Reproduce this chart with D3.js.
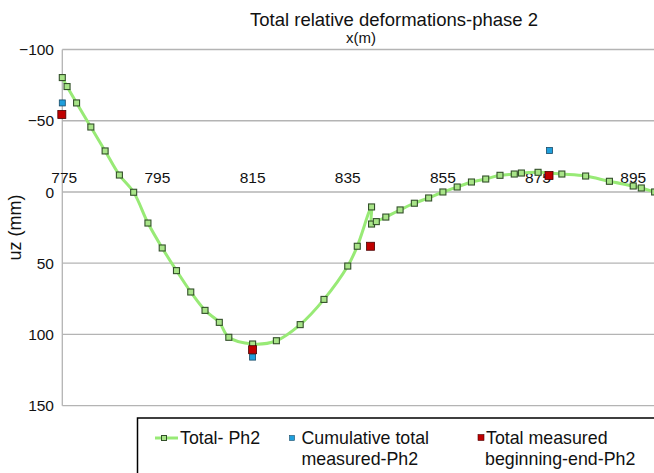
<!DOCTYPE html>
<html>
<head>
<meta charset="utf-8">
<script src="https://cdn.jsdelivr.net/npm/d3@7"></script>
<style>
  html, body { margin: 0; padding: 0; background: #fff; overflow: hidden; }
  svg { display: block; font-family: "Liberation Sans", Arial, sans-serif; }
</style>
</head>
<body>
<svg id="chart" width="654" height="473"></svg>
<script>
// ---- Data ----
const titleText = "Total relative deformations-phase 2";
const xAxisTitle = "x(m)";
const yAxisTitle = "uz (mm)";
const xTicks = [775, 795, 815, 835, 855, 875, 895];
const yTicks = [-100, -50, 0, 50, 100, 150];

const totalX = [775, 776, 778, 781, 784, 787, 790, 793, 796, 799, 802, 805, 808, 810, 815, 820, 825, 830, 835, 837, 840, 840, 841, 843, 846, 849, 852, 855, 858, 861, 864, 867, 870, 871.5, 875, 880, 885, 890, 895, 896.7, 899.5];
const totalY = [-80.3, -74, -62.5, -45.6, -28.8, -11.9, 0.2, 21.8, 39.3, 55.2, 70.2, 83.1, 91.5, 102, 106.7, 104.4, 93.1, 75.4, 52, 38.1, 10.5, 22.5, 20.8, 17.6, 12.6, 7.9, 4.2, 0, -3.5, -7, -9.1, -11.7, -12.6, -13.3, -13.8, -12.6, -11.2, -7.5, -4.2, -2.8, 0];

const cumX = [775, 815, 877.4];
const cumY = [-62.5, 115.9, -29.1];

const measX = [774.9, 815, 839.8, 877.3];
const measY = [-54.4, 110.7, 38.1, -11.5];

const legendLabels = [["Total- Ph2"], ["Cumulative total", "measured-Ph2"], ["Total measured", "beginning-end-Ph2"]];

// ---- Layout ----
const svg = d3.select("#chart");
const pLeft = 62.3, pRight = 657, pTop = 49.5, pBottom = 405.7;

const x = d3.scaleLinear().domain([775, 900]).range([pLeft, pRight]);
const y = d3.scaleLinear().domain([-100, 150]).range([pTop, pBottom]);

const green = "#98ea76", greenFill = "#a8e488", greenStroke = "#33502a";
const blue = "#1f9fdc", red = "#c00000";

// gridlines
svg.append("g").selectAll("line").data(yTicks).join("line")
  .attr("x1", pLeft).attr("x2", 654)
  .attr("y1", d => y(d)).attr("y2", d => y(d))
  .attr("stroke", "#b4b4b4").attr("stroke-width", 1.3);

// vertical axis line
svg.append("line").attr("x1", pLeft).attr("x2", pLeft).attr("y1", pTop).attr("y2", pBottom)
  .attr("stroke", "#b4b4b4").attr("stroke-width", 1.3);

// y tick labels
svg.append("g").selectAll("text").data(yTicks).join("text")
  .attr("x", 54).attr("y", d => y(d)).attr("dy", "0.36em")
  .attr("text-anchor", "end").attr("font-size", 15.5).attr("fill", "#111")
  .text(d => d < 0 ? "\u2212" + Math.abs(d) : d);

// x tick labels (above zero line)
svg.append("g").selectAll("text").data(xTicks).join("text")
  .attr("x", d => x(d) + (d === 775 ? 2 : 0)).attr("y", y(0) - 9)
  .attr("text-anchor", "middle").attr("font-size", 15.5).attr("fill", "#111")
  .text(d => d);

// title
svg.append("text").attr("x", 394).attr("y", 26).attr("text-anchor", "middle")
  .attr("font-size", 18.5).attr("fill", "#111").text(titleText);
svg.append("text").attr("x", 361).attr("y", 43).attr("text-anchor", "middle")
  .attr("font-size", 15).attr("fill", "#111").text(xAxisTitle);

// y axis title
svg.append("text").attr("transform", `translate(21,${(pTop + pBottom) / 2}) rotate(-90)`)
  .attr("text-anchor", "middle").attr("font-size", 18).attr("fill", "#111").text(yAxisTitle);

// total line
const totalData = totalX.map((v, i) => [v, totalY[i]]);
const line = d3.line().x(d => x(d[0])).y(d => y(d[1])).curve(d3.curveCatmullRom.alpha(0.5));
svg.append("path").datum(totalData).attr("d", line)
  .attr("fill", "none").attr("stroke", green).attr("stroke-width", 3);

svg.append("g").selectAll("rect").data(totalData).join("rect")
  .attr("x", d => x(d[0]) - 3).attr("y", d => y(d[1]) - 3)
  .attr("width", 6).attr("height", 6)
  .attr("fill", greenFill).attr("stroke", greenStroke).attr("stroke-width", 1.1);

// cumulative total measured
svg.append("g").selectAll("rect").data(cumX.map((v, i) => [v, cumY[i]])).join("rect")
  .attr("x", d => x(d[0]) - 3).attr("y", d => y(d[1]) - 3)
  .attr("width", 6).attr("height", 6)
  .attr("fill", blue).attr("stroke", "#1a4a66").attr("stroke-width", 0.8);

// total measured beginning-end
svg.append("g").selectAll("rect").data(measX.map((v, i) => [v, measY[i]])).join("rect")
  .attr("x", d => x(d[0]) - 4).attr("y", d => y(d[1]) - 4)
  .attr("width", 8).attr("height", 8)
  .attr("fill", red).attr("stroke", "#4a0000").attr("stroke-width", 0.8);

// legend
svg.append("rect").attr("x", 137.5).attr("y", 418).attr("width", 540).attr("height", 80)
  .attr("fill", "#fff").attr("stroke", "#000").attr("stroke-width", 1.5);

const lg = svg.append("g").attr("font-size", 17.8).attr("fill", "#111");
// item 1
lg.append("line").attr("x1", 155).attr("x2", 178).attr("y1", 438).attr("y2", 438)
  .attr("stroke", green).attr("stroke-width", 3);
lg.append("rect").attr("x", 161.5).attr("y", 435.5).attr("width", 5).attr("height", 5)
  .attr("fill", greenFill).attr("stroke", greenStroke).attr("stroke-width", 1);
lg.append("text").attr("x", 180).attr("y", 444).text(legendLabels[0][0]);
// item 2
lg.append("rect").attr("x", 289.5).attr("y", 435.5).attr("width", 5).attr("height", 5)
  .attr("fill", blue).attr("stroke", "#1a4a66").attr("stroke-width", 0.6);
lg.append("text").attr("x", 301.5).attr("y", 444).text(legendLabels[1][0]);
lg.append("text").attr("x", 301.5).attr("y", 465).text(legendLabels[1][1]);
// item 3
lg.append("rect").attr("x", 478).attr("y", 434.5).attr("width", 6).attr("height", 6)
  .attr("fill", red).attr("stroke", "#4a0000").attr("stroke-width", 0.6);
lg.append("text").attr("x", 486).attr("y", 444).text(legendLabels[2][0]);
lg.append("text").attr("x", 485).attr("y", 465).text(legendLabels[2][1]);
</script>
</body>
</html>
